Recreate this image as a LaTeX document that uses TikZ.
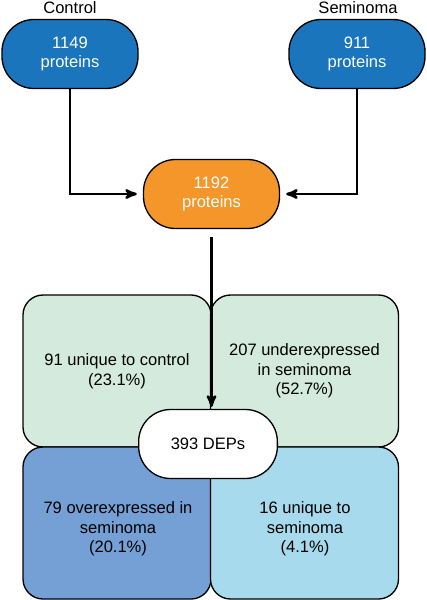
\documentclass[tikz,border=0pt]{standalone}
\usepackage{fontspec}
\setmainfont{Liberation Sans}
\usetikzlibrary{shapes.geometric, arrows}

\definecolor{setblue}{RGB}{27,117,188}
\definecolor{mergeorange}{RGB}{245,150,42}
\definecolor{downgreen}{RGB}{212,234,220}
\definecolor{upblue}{RGB}{116,160,214}
\definecolor{onlyblue}{RGB}{166,218,236}

\begin{document}
\begin{tikzpicture}[x=0.75pt,y=0.75pt,yscale=-1,xscale=1,
  every node/.style={font=\fontsize{12.4}{14.6}\selectfont, align=center, inner sep=0pt},
  pill/.style={draw=black, line width=1pt, rounded corners=24pt, minimum width=102pt, minimum height=51.75pt},
  quad/.style={draw=black, line width=1pt, rounded corners=15pt, minimum width=141pt, minimum height=114pt},
  flow/.style={line width=1.9pt, -stealth'}
]
\path (0,0) rectangle (426,600); %page size as the reference

% Input sets
\node (ctrl) [pill, fill=setblue, text=white] at (70,54) {1149\\proteins};
\node (sem) [pill, fill=setblue, text=white] at (357,54) {911\\proteins};
\node (ctrllbl) at (70,8) {Control};
\node (semlbl) at (358,8) {Seminoma};

% Merged set
\node (merged) [pill, fill=mergeorange, text=white] at (211.5,194) {1192\\proteins};

% Quadrants
\node (q1) [quad, fill=downgreen] at (117,371) {91 unique to control\\(23.1\%)};
\node (q2) [quad, fill=downgreen] at (304.5,371) {207 underexpressed\\in seminoma\\(52.7\%)};
\node (q3) [quad, fill=upblue] at (117,523) {};
\node (q4) [quad, fill=onlyblue] at (304.5,523) {};
\node (q3txt) at (118,529) {79 overexpressed in\\seminoma\\(20.1\%)};
\node (q4txt) at (305,529) {16 unique to\\seminoma\\(4.1\%)};

% Centre node
\node (deps) [pill, fill=white, minimum width=104pt] at (208,444) {393 DEPs};

% Connectors
\draw [flow, shorten >=4.5pt] (ctrl.south) |- (merged.west);
\draw [flow, shorten >=4.5pt] (sem.south) |- (merged.east);
\draw [flow, shorten <=6pt, shorten >=1.5pt] (merged.south) -- (merged.south |- deps.north);

\end{tikzpicture}
\end{document}
